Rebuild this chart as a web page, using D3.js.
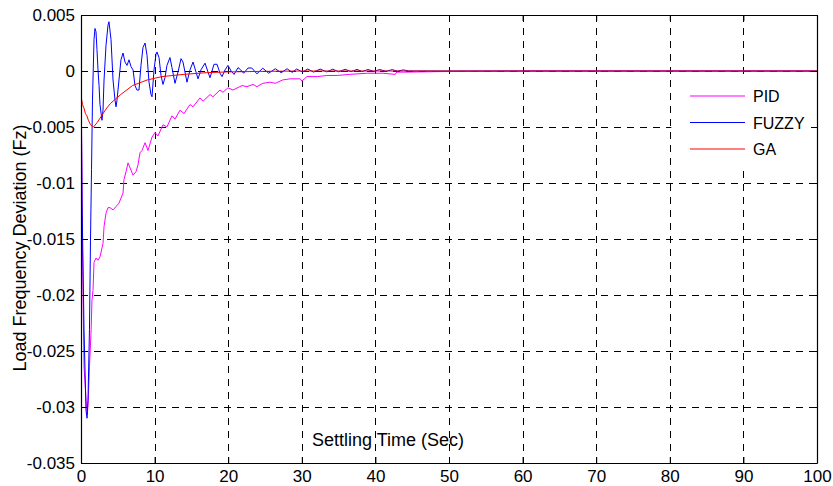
<!DOCTYPE html>
<html>
<head>
<meta charset="utf-8">
<script src="https://cdn.jsdelivr.net/npm/d3@7"></script>
<style>
  html, body { margin: 0; padding: 0; background: #fff; }
  svg { display: block; font-family: "Liberation Sans", Arial, sans-serif; }
</style>
</head>
<body>
<svg id="chart" width="833" height="486"></svg>
<script>
// ---------------- data ----------------
const xTicks = [0, 10, 20, 30, 40, 50, 60, 70, 80, 90, 100];
const yTicks = [0.005, 0, -0.005, -0.01, -0.015, -0.02, -0.025, -0.03, -0.035];
const yTickLabels = ["0.005", "0", "-0.005", "-0.01", "-0.015", "-0.02", "-0.025", "-0.03", "-0.035"];
const seriesNames = ["PID", "FUZZY", "GA"];

// PID response (time in sec, deviation)
const pidT = [0, 0.14, 0.2, 0.27, 0.41, 0.75, 0.86, 1.02, 1.15, 1.36, 1.49, 1.63, 1.77, 2.04, 2.31, 2.58, 2.99, 3.13, 3.4, 3.67, 3.94, 4.35, 4.76, 5.16, 5.71, 5.84, 6.11, 6.39, 7.07, 7.47, 7.74, 8.02, 8.29, 8.7, 9.1, 9.65, 10.05, 10.46, 11.14, 11.68, 12.36, 12.77, 13.45, 13.99, 14.81, 15.22, 16.17, 16.58, 17.53, 17.93, 18.89, 19.29, 19.97, 20.65, 21.88, 22.55, 23.37, 23.9, 24.7, 25.7, 26.4, 27.4, 28.4, 29.8, 30.0, 30.7, 32.1, 33.4, 34.8, 36.5, 38.9, 41.0, 42.7, 42.9, 44.3, 50, 60, 100];
const pidV = [0, -0.0100, -0.0160, -0.0198, -0.0264, -0.0300, -0.0307, -0.0289, -0.0264, -0.0234, -0.0205, -0.0196, -0.0171, -0.0167, -0.0169, -0.0166, -0.0154, -0.0139, -0.0127, -0.0122, -0.0122, -0.0124, -0.0121, -0.0118, -0.0109, -0.0097, -0.0090, -0.0082, -0.0093, -0.0090, -0.0084, -0.0073, -0.0071, -0.0064, -0.0071, -0.0059, -0.0055, -0.0058, -0.0048, -0.0050, -0.0040, -0.0043, -0.0035, -0.0038, -0.0030, -0.0032, -0.0024, -0.0027, -0.0021, -0.0023, -0.0017, -0.0019, -0.0015, -0.0017, -0.0013, -0.0014, -0.0012, -0.0014, -0.0011, -0.0010, -0.0011, -0.0008, -0.0007, -0.0007, -0.0009, -0.0005, -0.0005, -0.0004, -0.0004, -0.0003, -0.0002, -0.0002, -0.0003, -0.0001, -0.0001, -0.00004, 0, 0];

// FUZZY response
const fuzzyT = [0, 0.14, 0.41, 0.68, 0.82, 0.95, 1.15, 1.29, 1.43, 1.56, 1.77, 1.9, 2.04, 2.17, 2.31, 2.45, 2.58, 2.85, 2.99, 3.13, 3.4, 3.67, 3.8, 4.08, 4.35, 4.62, 4.76, 4.89, 5.16, 5.43, 5.71, 5.98, 6.25, 6.52, 6.79, 7.07, 7.34, 7.6, 7.88, 8.15, 8.42, 8.7, 8.97, 9.24, 9.51, 9.65, 9.92, 10.19, 10.33, 10.6, 10.87, 11.14, 11.41, 11.68, 12.09, 12.36, 12.77, 13.18, 13.59, 13.86, 14.4, 14.81, 15.22, 15.63, 15.9, 16.3, 16.85, 17.26, 17.53, 18.07, 18.48, 18.89, 19.16, 19.57, 19.97, 20.4, 20.8, 21.33, 21.7, 22.1, 22.7, 23.2, 23.9, 24.7, 25.5, 26.4, 27.2, 28.0, 28.7, 29.3, 30.1, 30.8, 31.6, 32.5, 33.4, 34.2, 35.0, 35.9, 36.7, 37.5, 38.2, 39.0, 39.8, 40.6, 41.4, 42.3, 43.0, 43.8, 44.5, 50, 100];
const fuzzyV = [0, -0.0115, -0.0231, -0.0303, -0.0310, -0.0294, -0.0231, -0.0151, -0.0088, -0.0026, 0.0028, 0.0038, 0.0035, 0.0019, 0.0001, -0.0013, -0.0030, -0.0044, -0.0035, -0.0008, 0.0023, 0.0041, 0.0044, 0.0028, -0.0008, -0.0026, -0.0032, -0.0026, -0.0008, 0.0010, 0.0016, 0.0008, 0.0005, 0.0010, 0.0004, 0.0001, -0.0013, -0.0017, -0.0017, 0.0005, 0.0021, 0.0025, 0.0014, -0.0010, -0.0021, -0.0023, 0.0001, 0.0015, 0.0017, 0.0012, -0.0004, -0.0012, -0.0006, 0.0005, 0.0012, 0.0003, -0.0011, -0.0001, 0.0011, 0.0008, -0.0010, 0.0001, 0.0008, -0.0001, -0.0007, 0.0001, 0.0007, -0.0001, -0.0006, 0.0006, 0.0006, -0.0002, -0.0005, 0.0001, 0.0005, 0.0000, -0.0003, 0.0003, 0.0001, -0.0002, 0.00027, 0.00027, -0.00025, 0.00025, -0.0002, 0.0002, -0.00015, 0.0002, -0.00012, 0.00018, -0.0001, 0.00018, -0.0001, 0.00017, -0.00008, 0.00016, -0.00007, 0.00015, -0.00006, 0.00014, -0.00005, 0.00013, -0.00004, 0.00013, -0.00003, 0.00012, -0.00002, 0.0001, 0, 0, 0];

// GA response
const gaT = [0, 0.2, 0.4, 0.6, 0.8, 1.0, 1.3, 1.7, 2.2, 2.7, 3.5, 4.0, 5.4, 7.0, 9.0, 11.0, 14.0, 17.0, 20.0, 25.0, 30.0, 100];
const gaV = [-0.0022, -0.0030, -0.0033, -0.0038, -0.0040, -0.0044, -0.0048, -0.0050, -0.0046, -0.0041, -0.0033, -0.0029, -0.0021, -0.0013, -0.0008, -0.0005, -0.0003, -0.00015, -0.00008, -0.00003, 0, 0];

const seriesColors = ["#ff00ff", "#0000ff", "#ff0000"];

// ---------------- drawing ----------------
const svg = d3.select("#chart");
const m = { left: 81, right: 817, top: 15, bottom: 463 };

const x = d3.scaleLinear().domain([0, 100]).range([m.left, m.right]);
const y = d3.scaleLinear().domain([-0.035, 0.005]).range([m.bottom, m.top]);

// grid
const grid = svg.append("g");
grid.selectAll("line.gx").data(xTicks.slice(1, -1)).enter().append("line")
  .attr("x1", d => Math.round(x(d)) + 0.5).attr("x2", d => Math.round(x(d)) + 0.5)
  .attr("y1", m.top).attr("y2", m.bottom)
  .attr("stroke", "#000").attr("stroke-width", 1).attr("stroke-dasharray", "7,6");
grid.selectAll("line.gy").data(yTicks.slice(1, -1)).enter().append("line")
  .attr("y1", d => Math.round(y(d)) + 0.5).attr("y2", d => Math.round(y(d)) + 0.5)
  .attr("x1", m.left).attr("x2", m.right)
  .attr("stroke", "#000").attr("stroke-width", 1).attr("stroke-dasharray", "7,6");

// series
const toPts = (T, V) => T.map((t, i) => [t, V[i]]);
const data = [toPts(pidT, pidV), toPts(fuzzyT, fuzzyV), toPts(gaT, gaV)];
const line = d3.line().x(d => x(d[0])).y(d => y(d[1]));
const clip = svg.append("clipPath").attr("id", "clip").append("rect")
  .attr("x", m.left).attr("y", m.top).attr("width", m.right - m.left).attr("height", m.bottom - m.top);
const lines = svg.append("g").attr("clip-path", "url(#clip)");
data.forEach((d, i) => {
  lines.append("path").datum(d).attr("d", line)
    .attr("fill", "none").attr("stroke", seriesColors[i]).attr("stroke-width", 1);
});

// legend (white background, no border)
const lg = svg.append("g");
lg.append("rect").attr("x", x(80) + 1.5).attr("y", 80)
  .attr("width", m.right - x(80) - 2.5).attr("height", 85).attr("fill", "#fff");
seriesNames.forEach((name, i) => {
  const ly = 96 + i * 26.5;
  lg.append("line").attr("x1", 690).attr("x2", 745).attr("y1", ly).attr("y2", ly)
    .attr("stroke", seriesColors[i]).attr("stroke-width", 1);
  lg.append("text").attr("x", 753).attr("y", ly + 6).style("font-size", "16px").text(name);
});

// axes box with inward ticks
const axB = svg.append("g").attr("transform", `translate(0,${m.bottom})`)
  .call(d3.axisBottom(x).tickValues(xTicks).tickSizeInner(-6).tickSizeOuter(0).tickPadding(7));
const axL = svg.append("g").attr("transform", `translate(${m.left},0)`)
  .call(d3.axisLeft(y).tickValues(yTicks).tickFormat((d, i) => yTickLabels[i]).tickSizeInner(-6).tickSizeOuter(0).tickPadding(6));
const axT = svg.append("g").attr("transform", `translate(0,${m.top})`)
  .call(d3.axisTop(x).tickValues(xTicks).tickSizeInner(-6).tickSizeOuter(0).tickFormat(""));
const axR = svg.append("g").attr("transform", `translate(${m.right},0)`)
  .call(d3.axisRight(y).tickValues(yTicks).tickSizeInner(-6).tickSizeOuter(0).tickFormat(""));
[axB, axL, axT, axR].forEach(a => {
  a.selectAll("path.domain").attr("stroke", "#000").attr("stroke-width", 1.2);
  a.selectAll(".tick line").attr("stroke", "#000");
  a.selectAll("text").attr("fill", "#000").style("font-size", "17px")
    .style("font-family", "'Liberation Sans', Arial, sans-serif");
});

// axis titles
svg.append("text")
  .attr("transform", `translate(26,248) rotate(-90)`)
  .attr("text-anchor", "middle")
  .style("font-size", "18px")
  .text("Load Frequency Deviation (Fz)");
svg.append("text")
  .attr("x", 388).attr("y", 446)
  .attr("text-anchor", "middle")
  .style("font-size", "18px")
  .text("Settling Time (Sec)");
</script>
</body>
</html>
